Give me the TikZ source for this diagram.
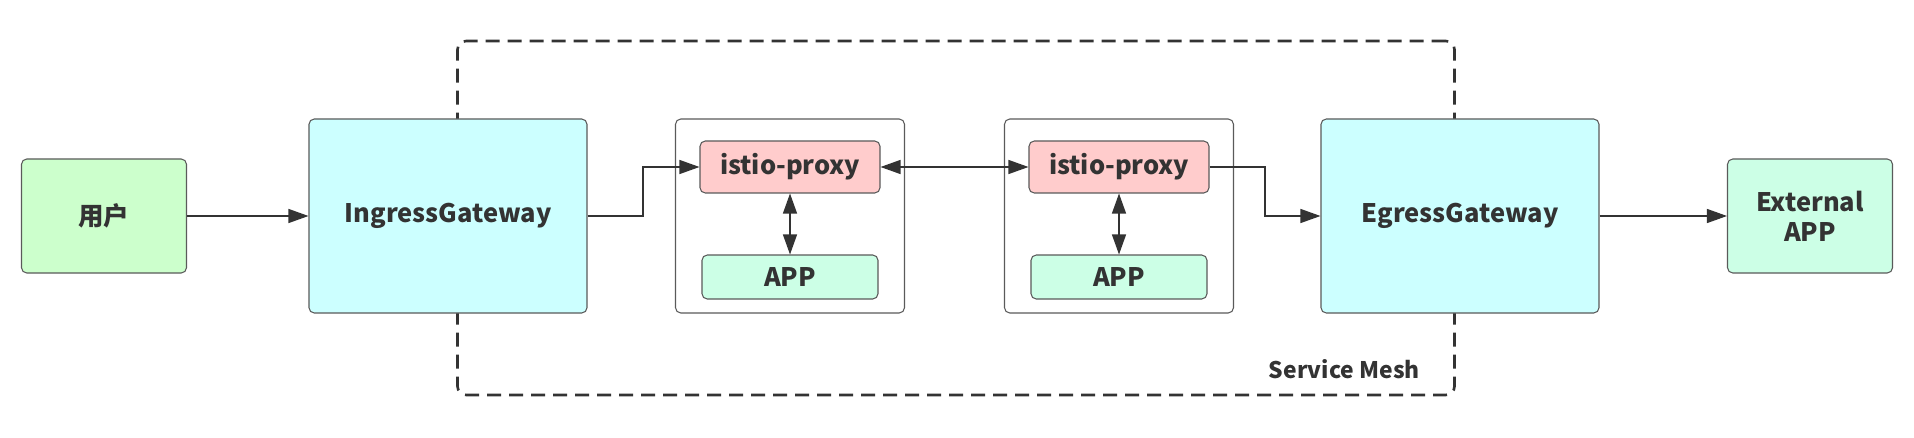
\documentclass[tikz,border=0pt]{standalone}
\usepackage{fontspec}
\setmainfont{Noto Sans CJK SC}
\usetikzlibrary{positioning,arrows.meta}

\definecolor{linegray}{HTML}{5A5A5A}
\definecolor{arrowgray}{HTML}{333333}
\definecolor{usergreen}{HTML}{CCFFCC}
\definecolor{gwcyan}{HTML}{CCFFFF}
\definecolor{proxyred}{HTML}{FFCCCC}
\definecolor{appmint}{HTML}{CCFFE6}

\begin{document}
\begin{tikzpicture}[
  x=0.2mm,y=-0.2mm,
  font=\bfseries\fontsize{14.5}{17}\selectfont,
  box/.style={draw=linegray,rounded corners=3pt,line width=0.6pt,align=center,text=arrowgray},
  endpt/.style={box,minimum width=3.3cm,minimum height=2.28cm},
  gw/.style={box,fill=gwcyan,minimum width=5.56cm,minimum height=3.88cm},
  pod/.style={box,fill=white,minimum width=4.58cm,minimum height=3.88cm},
  proxy/.style={box,fill=proxyred,minimum width=3.6cm,minimum height=1.04cm},
  app/.style={box,fill=appmint,minimum width=3.52cm,minimum height=0.88cm},
  meshbox/.style={draw=arrowgray,line width=1.5pt,dash pattern=on 0.28cm off 0.16cm,rounded corners=5pt,minimum width=19.94cm,minimum height=7.08cm},
  link/.style={draw=arrowgray,line width=0.7pt,-{Triangle[length=4mm,width=2.8mm]}},
  dlink/.style={draw=arrowgray,line width=0.7pt,{Triangle[length=4mm,width=2.8mm]}-{Triangle[length=4mm,width=2.8mm]}}
]
\useasboundingbox[fill=white] (0,0) rectangle (1914,438);

% service mesh boundary
\node[meshbox] (mesh) at (956,218) {};
\node[anchor=east,font=\bfseries\fontsize{13}{15}\selectfont,text=arrowgray] (meshlabel) at (1426,369) {Service Mesh};

\node[endpt,fill=usergreen] (user) at (104,216) {用户};
\node[gw] (ingress) at (448,216) {IngressGateway};
\node[gw] (egress) at (1460,216) {EgressGateway};
\node[endpt,fill=appmint] (external) at (1810,216) {External\\APP};

\foreach \i/\px in {1/790,2/1119}{
  \node[pod] (pod\i) at (\px,216) {};
  \node[proxy,below=0.44cm of pod\i.north] (proxy\i) {istio-proxy};
  \node[app,above=0.28cm of pod\i.south] (app\i) {APP};
  \draw[dlink] (proxy\i) -- (app\i);
}

\coordinate (bend1) at (643,216);
\coordinate (bend2) at (1265,216);

\draw[link] (user) -- (ingress);
\draw[link] (ingress.east) -- (bend1) |- (proxy1.west);
\draw[dlink] (proxy1) -- (proxy2);
\draw[link] (proxy2.east) -| (bend2) -- (egress.west);
\draw[link] (egress) -- (external);
\end{tikzpicture}
\end{document}
